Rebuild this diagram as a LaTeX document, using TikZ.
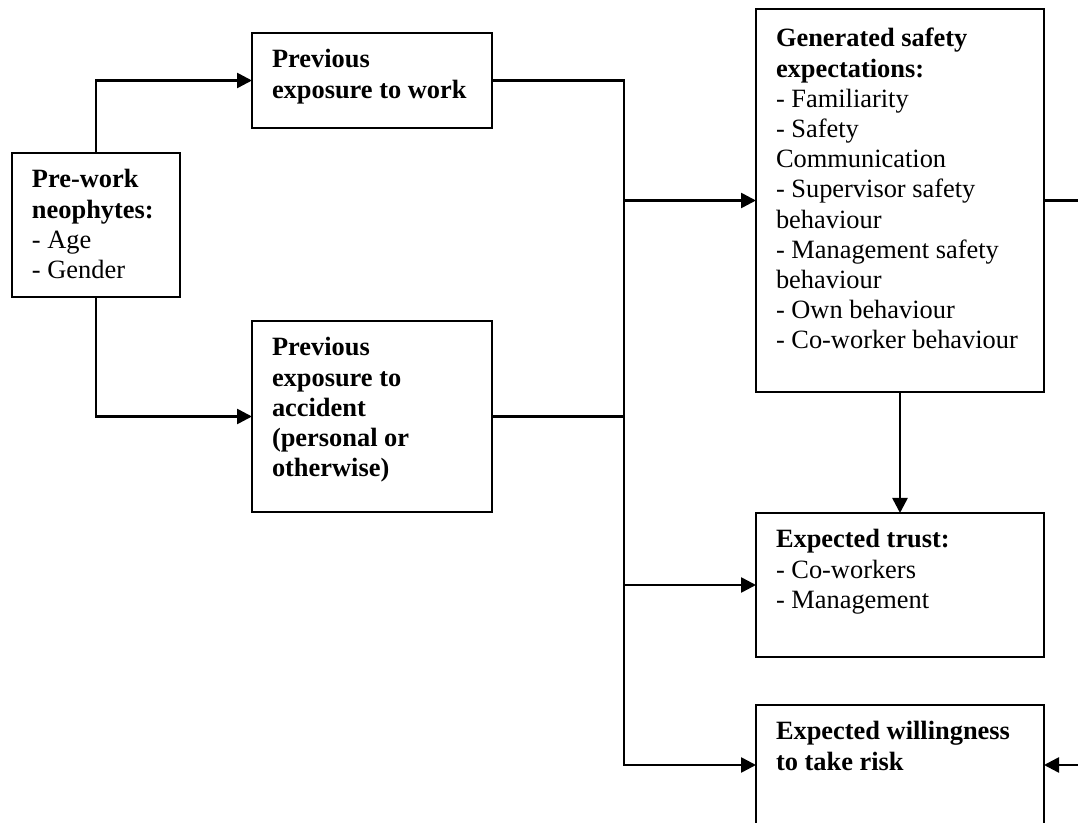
\documentclass[tikz,border=0pt]{standalone}
\usepackage{fontspec}
\setmainfont{Liberation Serif}
\usetikzlibrary{arrows.meta,calc}
\newcommand\bxt[4][17.5pt]{\parbox[c][#3][t]{#2}{\raggedright\fontsize{13.2}{15.1}\selectfont\rule{0pt}{#1}#4}}
\begin{document}
\begin{tikzpicture}[x=0.5pt,y=-0.5pt,
  bx/.style={draw,line width=1pt,inner xsep=10pt,inner ysep=0pt,outer sep=0pt,anchor=north west},
  ln/.style={line width=1.3pt},
  ar/.style={ln,-{Triangle[length=7.5pt,width=7.5pt]}}]
\useasboundingbox (0,0) rectangle (1078,823);
\clip (0,0) rectangle (1078,823);
\fill[white] (0,0) rectangle (1078,823);
\node[bx] (A) at (12,153) {\bxt{64pt}{72pt}{\textbf{Pre-work\\neophytes:}\\- Age\\- Gender}};
\node[bx] (B) at (252,33) {\bxt{100pt}{47.5pt}{\textbf{Previous\\exposure to work}}};
\node[bx] (C) at (252,321) {\bxt{100pt}{95.5pt}{\textbf{Previous\\exposure to\\accident\\(personal or\\otherwise)}}};
\node[bx] (D) at (756,9) {\bxt[19pt]{124pt}{191.5pt}{\textbf{Generated safety\\expectations:}\\- Familiarity\\- Safety\\Communication\\- Supervisor safety\\behaviour\\- Management safety\\behaviour\\- Own behaviour\\- Co-worker behaviour}};
\node[bx] (E) at (756,513) {\bxt{124pt}{72pt}{\textbf{Expected trust:}\\- Co-workers\\- Management}};
\node[bx] (F) at (756,705) {\bxt{124pt}{60pt}{\textbf{Expected willingness\\to take risk}}};
\coordinate (sp) at (624,0);
\coordinate (re) at (1078,0);
\draw[ar] (A.north) |- (B.west);
\draw[ar] (A.south) |- (C.west);
\draw[ar] (B.east) -- (B.east -| sp) -- (F.west -| sp) -- (F.west);
\draw[ln] (C.east) -- (C.east -| sp);
\draw[ar] (D.west -| sp) -- (D.west);
\draw[ar] (E.west -| sp) -- (E.west);
\draw[ar] (D.south) -- (E.north);
\draw[ln] (D.east) -- (D.east -| re);
\draw[ar] (F.east -| re) -- (F.east);
\end{tikzpicture}
\end{document}
